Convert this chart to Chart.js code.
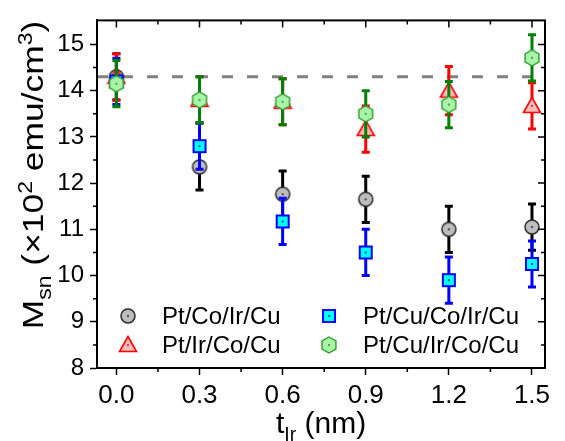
<!DOCTYPE html>
<html>
<head>
<meta charset="utf-8">
<script src="https://cdn.jsdelivr.net/npm/chart.js@4.4.0/dist/chart.umd.min.js"></script>
<style>
  html, body { margin: 0; padding: 0; background: #fff; }
  #wrap { width: 565px; height: 441px; }
</style>
</head>
<body>
<div id="wrap"><canvas id="msChart" width="565" height="441"></canvas></div>
<script>
// dados
const tIr = [0, 0.3, 0.6, 0.9, 1.2, 1.5];
const ptCoIrCu = [14.3, 12.35, 11.76, 11.65, 11.0, 11.05];
const ptCoIrCuErr = [0.5, 0.5, 0.5, 0.5, 0.5, 0.5];
const ptIrCoCu = [14.3, 13.8, 13.76, 13.17, 14.0, 13.67];
const ptIrCoCuErr = [0.5, 0.5, 0.5, 0.5, 0.52, 0.5];
const ptCuCoIrCu = [14.2, 12.8, 11.17, 10.5, 9.9, 10.25];
const ptCuCoIrCuErr = [0.5, 0.5, 0.5, 0.5, 0.5, 0.5];
const ptCuIrCoCu = [14.15, 13.8, 13.76, 13.5, 13.7, 14.71];
const ptCuIrCoCuErr = [0.5, 0.5, 0.5, 0.5, 0.5, 0.5];
const refLevel = 14.3;
const xTicks = [0, 0.3, 0.6, 0.9, 1.2, 1.5];
const xMinor = [0.15, 0.45, 0.75, 1.05, 1.35];
const yTicks = [8, 9, 10, 11, 12, 13, 14, 15];
const yMinor = [8.5, 9.5, 10.5, 11.5, 12.5, 13.5, 14.5];

const FONT = '"Liberation Sans", Arial, sans-serif';

// marcadores desenhados num canvas (estilo Origin, com ponto central)
function makeMarker(shape, fill, stroke, lw, dot) {
    const c = document.createElement('canvas');
    c.width = 20; c.height = 20;
    const g = c.getContext('2d');
    g.translate(10, 10);
    g.beginPath();
    if (shape === 'circle') {
        g.arc(0, 0, 7, 0, Math.PI * 2);
    } else if (shape === 'square') {
        g.rect(-6, -6, 12, 12);
    } else if (shape === 'triangle') {
        g.moveTo(0, -8.5);
        g.lineTo(8.5, 6.5);
        g.lineTo(-8.5, 6.5);
        g.closePath();
    } else if (shape === 'hex') {
        for (let k = 0; k < 6; k++) {
            const a = -Math.PI / 2 + k * Math.PI / 3;
            const px = 8 * Math.cos(a), py = 8 * Math.sin(a);
            if (k === 0) g.moveTo(px, py); else g.lineTo(px, py);
        }
        g.closePath();
    }
    g.fillStyle = fill;
    g.fill();
    g.lineWidth = lw;
    g.strokeStyle = stroke;
    g.stroke();
    g.fillStyle = dot;
    g.fillRect(-0.6, -1, 1.2, 2);
    return c;
}

const mkCircle = makeMarker('circle', '#bdbdbd', '#2b2b2b', 1.5, '#000');
const mkTri = makeMarker('triangle', '#f8bcbc', '#ff0000', 1.6, '#a00');
const mkSquare = makeMarker('square', '#00ffff', '#0000ff', 2, '#003');
const mkHex = makeMarker('hex', '#a8f5a8', '#2f9a2f', 1.4, '#1a6a1a');

const toPts = vals => tIr.map((x, i) => ({ x: x, y: vals[i] }));

const series = [
    { label: 'Pt/Co/Ir/Cu', vals: ptCoIrCu, err: ptCoIrCuErr, color: '#000000', marker: mkCircle, order: 4 },
    { label: 'Pt/Ir/Co/Cu', vals: ptIrCoCu, err: ptIrCoCuErr, color: '#ff0000', marker: mkTri, order: 3 },
    { label: 'Pt/Cu/Co/Ir/Cu', vals: ptCuCoIrCu, err: ptCuCoIrCuErr, color: '#0000ff', marker: mkSquare, order: 2 },
    { label: 'Pt/Cu/Ir/Co/Cu', vals: ptCuIrCoCu, err: ptCuIrCoCuErr, color: '#008000', marker: mkHex, order: 1 }
];

// texto com sub/sobrescrito: partes [texto, tipo]
function drawRich(ctx, parts, size, stretch) {
    const small = size * 0.65;
    let total = 0;
    parts.forEach(p => {
        ctx.font = (p[1] ? small : size) + 'px ' + FONT;
        total += ctx.measureText(p[0]).width;
    });
    ctx.save();
    ctx.scale(stretch, 1);
    let cx = -total / 2;
    parts.forEach(p => {
        ctx.font = (p[1] ? small : size) + 'px ' + FONT;
        let dy = 0;
        if (p[1] === 'sub') dy = size * 0.28;
        if (p[1] === 'sup') dy = -size * 0.38;
        ctx.fillText(p[0], cx, dy);
        cx += ctx.measureText(p[0]).width;
    });
    ctx.restore();
}

const extras = {
    id: 'extras',
    beforeDatasetsDraw(chart) {
        const { ctx, chartArea, scales } = chart;
        const y = scales.y.getPixelForValue(refLevel);
        ctx.save();
        ctx.strokeStyle = '#808080';
        ctx.lineWidth = 3;
        ctx.setLineDash([11, 14]);
        ctx.beginPath();
        ctx.moveTo(chartArea.left, y);
        ctx.lineTo(chartArea.right, y);
        ctx.stroke();
        ctx.restore();
    },
    beforeDatasetDraw(chart, args) {
        const s = series[args.index];
        const { ctx, scales } = chart;
        ctx.save();
        ctx.strokeStyle = s.color;
        ctx.lineWidth = 3;
        s.vals.forEach((v, i) => {
            const x = scales.x.getPixelForValue(tIr[i]);
            const yt = scales.y.getPixelForValue(v + s.err[i]);
            const yb = scales.y.getPixelForValue(v - s.err[i]);
            ctx.beginPath();
            ctx.moveTo(x, yt); ctx.lineTo(x, yb);
            ctx.moveTo(x - 4, yt); ctx.lineTo(x + 4, yt);
            ctx.moveTo(x - 4, yb); ctx.lineTo(x + 4, yb);
            ctx.stroke();
        });
        ctx.restore();
    },
    afterDraw(chart) {
        const { ctx, chartArea: a, scales } = chart;
        ctx.save();
        // moldura
        ctx.strokeStyle = '#000';
        ctx.lineWidth = 2;
        ctx.strokeRect(a.left, a.top, a.right - a.left, a.bottom - a.top);
        // ticks de cima/direita e ticks menores
        ctx.lineWidth = 1.5;
        ctx.beginPath();
        xTicks.forEach(v => {
            const x = scales.x.getPixelForValue(v);
            ctx.moveTo(x, a.top); ctx.lineTo(x, a.top + 7);
        });
        xMinor.forEach(v => {
            const x = scales.x.getPixelForValue(v);
            ctx.moveTo(x, a.top); ctx.lineTo(x, a.top + 4);
            ctx.moveTo(x, a.bottom); ctx.lineTo(x, a.bottom + 4);
        });
        yTicks.forEach(v => {
            const y = scales.y.getPixelForValue(v);
            ctx.moveTo(a.right, y); ctx.lineTo(a.right - 7, y);
        });
        yMinor.forEach(v => {
            const y = scales.y.getPixelForValue(v);
            ctx.moveTo(a.right, y); ctx.lineTo(a.right - 4, y);
            ctx.moveTo(a.left, y); ctx.lineTo(a.left - 4, y);
        });
        ctx.stroke();

        // titulos dos eixos
        ctx.fillStyle = '#000';
        ctx.textBaseline = 'alphabetic';
        ctx.textAlign = 'left';
        ctx.save();
        ctx.translate((a.left + a.right) / 2, 433);
        drawRich(ctx, [['t', null], ['Ir', 'sub'], [' (nm)', null]], 30, 1);
        ctx.restore();
        ctx.save();
        ctx.translate(43, 175);
        ctx.rotate(-Math.PI / 2);
        drawRich(ctx, [['M', null], ['sn', 'sub'], [' (\u00d710', null], ['2', 'sup'], [' emu/cm', null], ['3', 'sup'], [')', null]], 30, 1.18);
        ctx.restore();

        // legenda em 2 colunas
        const cols = [[128, 162], [329, 363]];
        const rows = [316, 345];
        const place = [[0, 0], [0, 1], [1, 0], [1, 1]];
        ctx.font = '24px ' + FONT;
        ctx.textBaseline = 'middle';
        series.forEach((s, i) => {
            const [c, r] = place[i];
            ctx.drawImage(s.marker, cols[c][0] - 10, rows[r] - 10);
            ctx.fillText(s.label, cols[c][1], rows[r] + 1);
        });
        ctx.restore();
    }
};

const ctx = document.getElementById('msChart').getContext('2d');
new Chart(ctx, {
    type: 'scatter',
    data: {
        datasets: series.map(s => ({
            label: s.label,
            data: toPts(s.vals),
            order: s.order,
            pointStyle: s.marker,
            pointRadius: 8,
            borderColor: s.color,
            backgroundColor: s.color,
            showLine: false
        }))
    },
    options: {
        responsive: false,
        animation: false,
        events: [],
        layout: { padding: { top: 7, right: 20, left: 0, bottom: 0 } },
        plugins: {
            legend: { display: false },
            tooltip: { enabled: false }
        },
        scales: {
            x: {
                type: 'linear',
                min: -0.07,
                max: 1.547,
                afterBuildTicks: scale => { scale.ticks = xTicks.map(v => ({ value: v })); },
                afterFit: scale => { scale.height = 73; },
                ticks: {
                    color: '#000',
                    font: { family: FONT, size: 26 },
                    padding: 5,
                    maxRotation: 0,
                    callback: v => Number(v).toFixed(1)
                },
                grid: { drawOnChartArea: false, drawTicks: true, tickLength: 7, tickWidth: 1.5, color: '#000' },
                border: { display: true, color: '#000', width: 2 }
            },
            y: {
                min: 8,
                max: 15.52,
                afterBuildTicks: scale => { scale.ticks = yTicks.map(v => ({ value: v })); },
                afterFit: scale => { scale.width = 97; },
                ticks: {
                    color: '#000',
                    font: { family: FONT, size: 24 },
                    padding: 6,
                    callback: v => String(v)
                },
                grid: { drawOnChartArea: false, drawTicks: true, tickLength: 7, tickWidth: 1.5, color: '#000' },
                border: { display: true, color: '#000', width: 2 }
            }
        }
    },
    plugins: [extras]
});
</script>
</body>
</html>
